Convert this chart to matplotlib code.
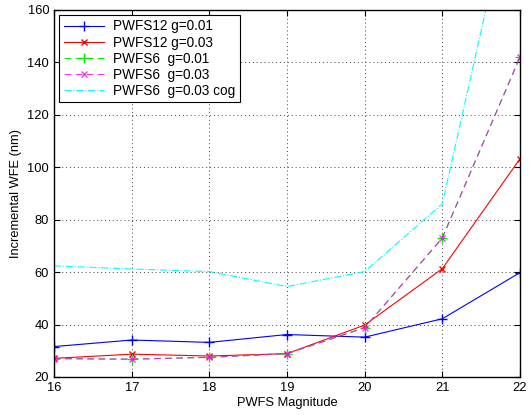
import matplotlib
matplotlib.use("Agg")
import matplotlib.pyplot as plt

plt.rcParams['font.family'] = ['Liberation Sans', 'DejaVu Sans']

mag = [16, 17, 18, 19, 20, 21, 22]
pwfs12_g001 = [31.6, 34.1, 33.2, 36.2, 35.2, 42.2, 59.8]
pwfs12_g003 = [27.1, 28.7, 28.0, 28.9, 39.8, 61.3, 103.2]
pwfs6_g001 = [27.0, 26.8, 27.5, 28.9, 38.8, 73.0, 142.0]
pwfs6_g003 = [27.0, 26.8, 27.5, 28.9, 38.8, 73.0, 142.0]
pwfs6_g003_cog = [62.4, 61.2, 60.2, 54.5, 60.2, 86.0, 218.0]

fig = plt.figure(figsize=(5.3, 4.15), dpi=100)
ax = fig.add_axes([0.102, 0.0916, 0.879, 0.8844])

ax.plot(mag, pwfs12_g001, '-', color='blue', marker='+', ms=7, lw=0.8, label='PWFS12 g=0.01')
ax.plot(mag, pwfs12_g003, '-', color='red', marker='x', ms=5, lw=0.8, label='PWFS12 g=0.03')
ax.plot(mag, pwfs6_g001, '--', color='#00ee00', marker='+', ms=7, lw=0.8, dashes=(6, 4), label='PWFS6  g=0.01')
ax.plot(mag, pwfs6_g003, '--', color='#ff00ff', marker='x', ms=5, lw=0.8, dashes=(6, 4), alpha=0.8, label='PWFS6  g=0.03')
ax.plot(mag, pwfs6_g003_cog, '-.', color='cyan', lw=0.8, label='PWFS6  g=0.03 cog')

ax.set_xlim(16, 22)
ax.set_ylim(20, 160)
ax.set_xticks(mag)
ax.set_yticks(range(20, 161, 20))
ax.grid(True, linestyle=(0, (1, 3)), color='#444444', lw=0.7)
ax.tick_params(direction='in', labelsize=9.3, top=True, right=True, length=4)
for s in ax.spines.values():
    s.set_linewidth(1.0)
ax.set_xlabel('PWFS Magnitude', fontsize=9.3, labelpad=2)
ax.set_ylabel('Incremental WFE (nm)', fontsize=9.3, labelpad=4)

leg = ax.legend(loc='upper left', fontsize=9.8, frameon=True, fancybox=False,
                edgecolor='black', framealpha=1, borderpad=0.35, labelspacing=0.15,
                handlelength=3.0, handletextpad=0.6, borderaxespad=0.35)
leg.get_frame().set_linewidth(0.8)

fig.savefig('out.png', dpi=100)
